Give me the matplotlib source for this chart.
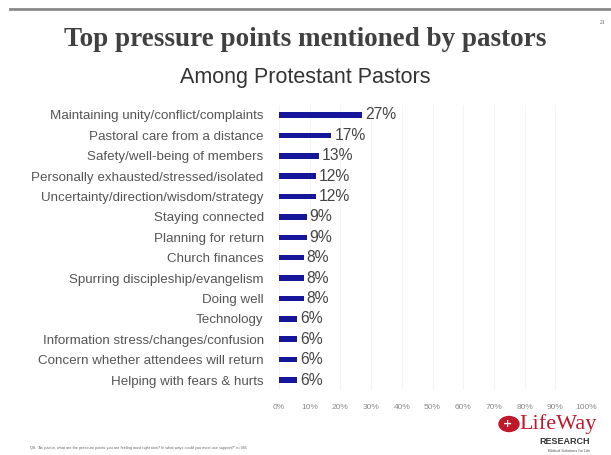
import matplotlib
matplotlib.use("Agg")
import matplotlib.pyplot as plt
from matplotlib.patches import Ellipse
from matplotlib.lines import Line2D

categories = [
    "Maintaining unity/conflict/complaints",
    "Pastoral care from a distance",
    "Safety/well-being of members",
    "Personally exhausted/stressed/isolated",
    "Uncertainty/direction/wisdom/strategy",
    "Staying connected",
    "Planning for return",
    "Church finances",
    "Spurring discipleship/evangelism",
    "Doing well",
    "Technology",
    "Information stress/changes/confusion",
    "Concern whether attendees will return",
    "Helping with fears & hurts",
]
values = [27, 17, 13, 12, 12, 9, 9, 8, 8, 8, 6, 6, 6, 6]
xticks = [0, 10, 20, 30, 40, 50, 60, 70, 80, 90, 100]
xtick_labels = [f"{t}%" for t in xticks]

W, H = 611, 455
fig = plt.figure(figsize=(W / 100, H / 100), dpi=100)
fig.patch.set_facecolor("white")

# top rule
fig.add_artist(Line2D([10 / W, 1], [1 - 9 / H, 1 - 9 / H], color="#8a8a8a", lw=2))

fig.text(305 / W, 1 - 40 / H, "Top pressure points mentioned by pastors",
         ha="center", va="center", fontsize=19.5, fontweight="bold",
         family="Liberation Serif", color="#404040")
fig.text(305 / W, 1 - 77 / H, "Among Protestant Pastors",
         ha="center", va="center", fontsize=15.5, family="Liberation Sans",
         color="#333333")
fig.text(603 / W, 1 - 22 / H, "21", ha="center", va="center", fontsize=4,
         family="Liberation Serif", color="#555555")

left, right = 279 / W, 586 / W
top_px, bot_px = 104.8, 390.2
ax = fig.add_axes([left, 1 - bot_px / H, right - left, (bot_px - top_px) / H])
y = list(range(len(categories)))
ax.barh(y, values, height=0.27, color="#16169a")
ax.set_xlim(0, 100)
ax.set_ylim(len(categories) - 0.5, -0.5)
for s in ax.spines.values():
    s.set_visible(False)
ax.set_xticks(xticks)
ax.set_xticklabels(xtick_labels, fontsize=6, color="#8a8a8a", family="Liberation Sans")
ax.tick_params(axis="x", length=0, pad=10)
ax.set_yticks(y)
ax.set_yticklabels(categories, fontsize=9.6, color="#555555", family="Liberation Sans")
ax.tick_params(axis="y", length=0, pad=11)
ax.grid(axis="x", color="#f4f4f4", lw=0.8)
ax.set_axisbelow(True)
for yi, v in zip(y, values):
    ax.text(v + 1.0, yi, f"{v}%", va="center", ha="left", fontsize=11.3,
            color="#444444", family="Liberation Sans")

# footnote
fig.text(30 / W, 1 - 448 / H,
         "Q8: \u201cAs pastor, what are the pressure points you are feeling most right now? In what ways could you most use support?\u201d n=365",
         ha="left", va="center", fontsize=2.8, color="#666666", family="Liberation Sans")

# logo
fig.add_artist(Ellipse((509 / W, 1 - 424 / H), 20 / W, 15 / H, color="#c0182b"))
fig.text(508 / W, 1 - 424 / H, "+", ha="center", va="center", fontsize=8,
         color="white", fontweight="bold")
fig.text(519 / W, 1 - 424 / H, "LifeWay", ha="left", va="center", fontsize=16,
         family="Liberation Serif", color="#c0182b")
fig.text(590 / W, 1 - 441 / H, "RESEARCH", ha="right", va="center", fontsize=6.5,
         family="Liberation Sans", fontweight="bold", color="#333333")
fig.text(590 / W, 1 - 451 / H, "Biblical Solutions for Life", ha="right", va="center",
         fontsize=2.8, family="Liberation Sans", color="#555555")

fig.savefig("out.png", dpi=100, facecolor="white")
